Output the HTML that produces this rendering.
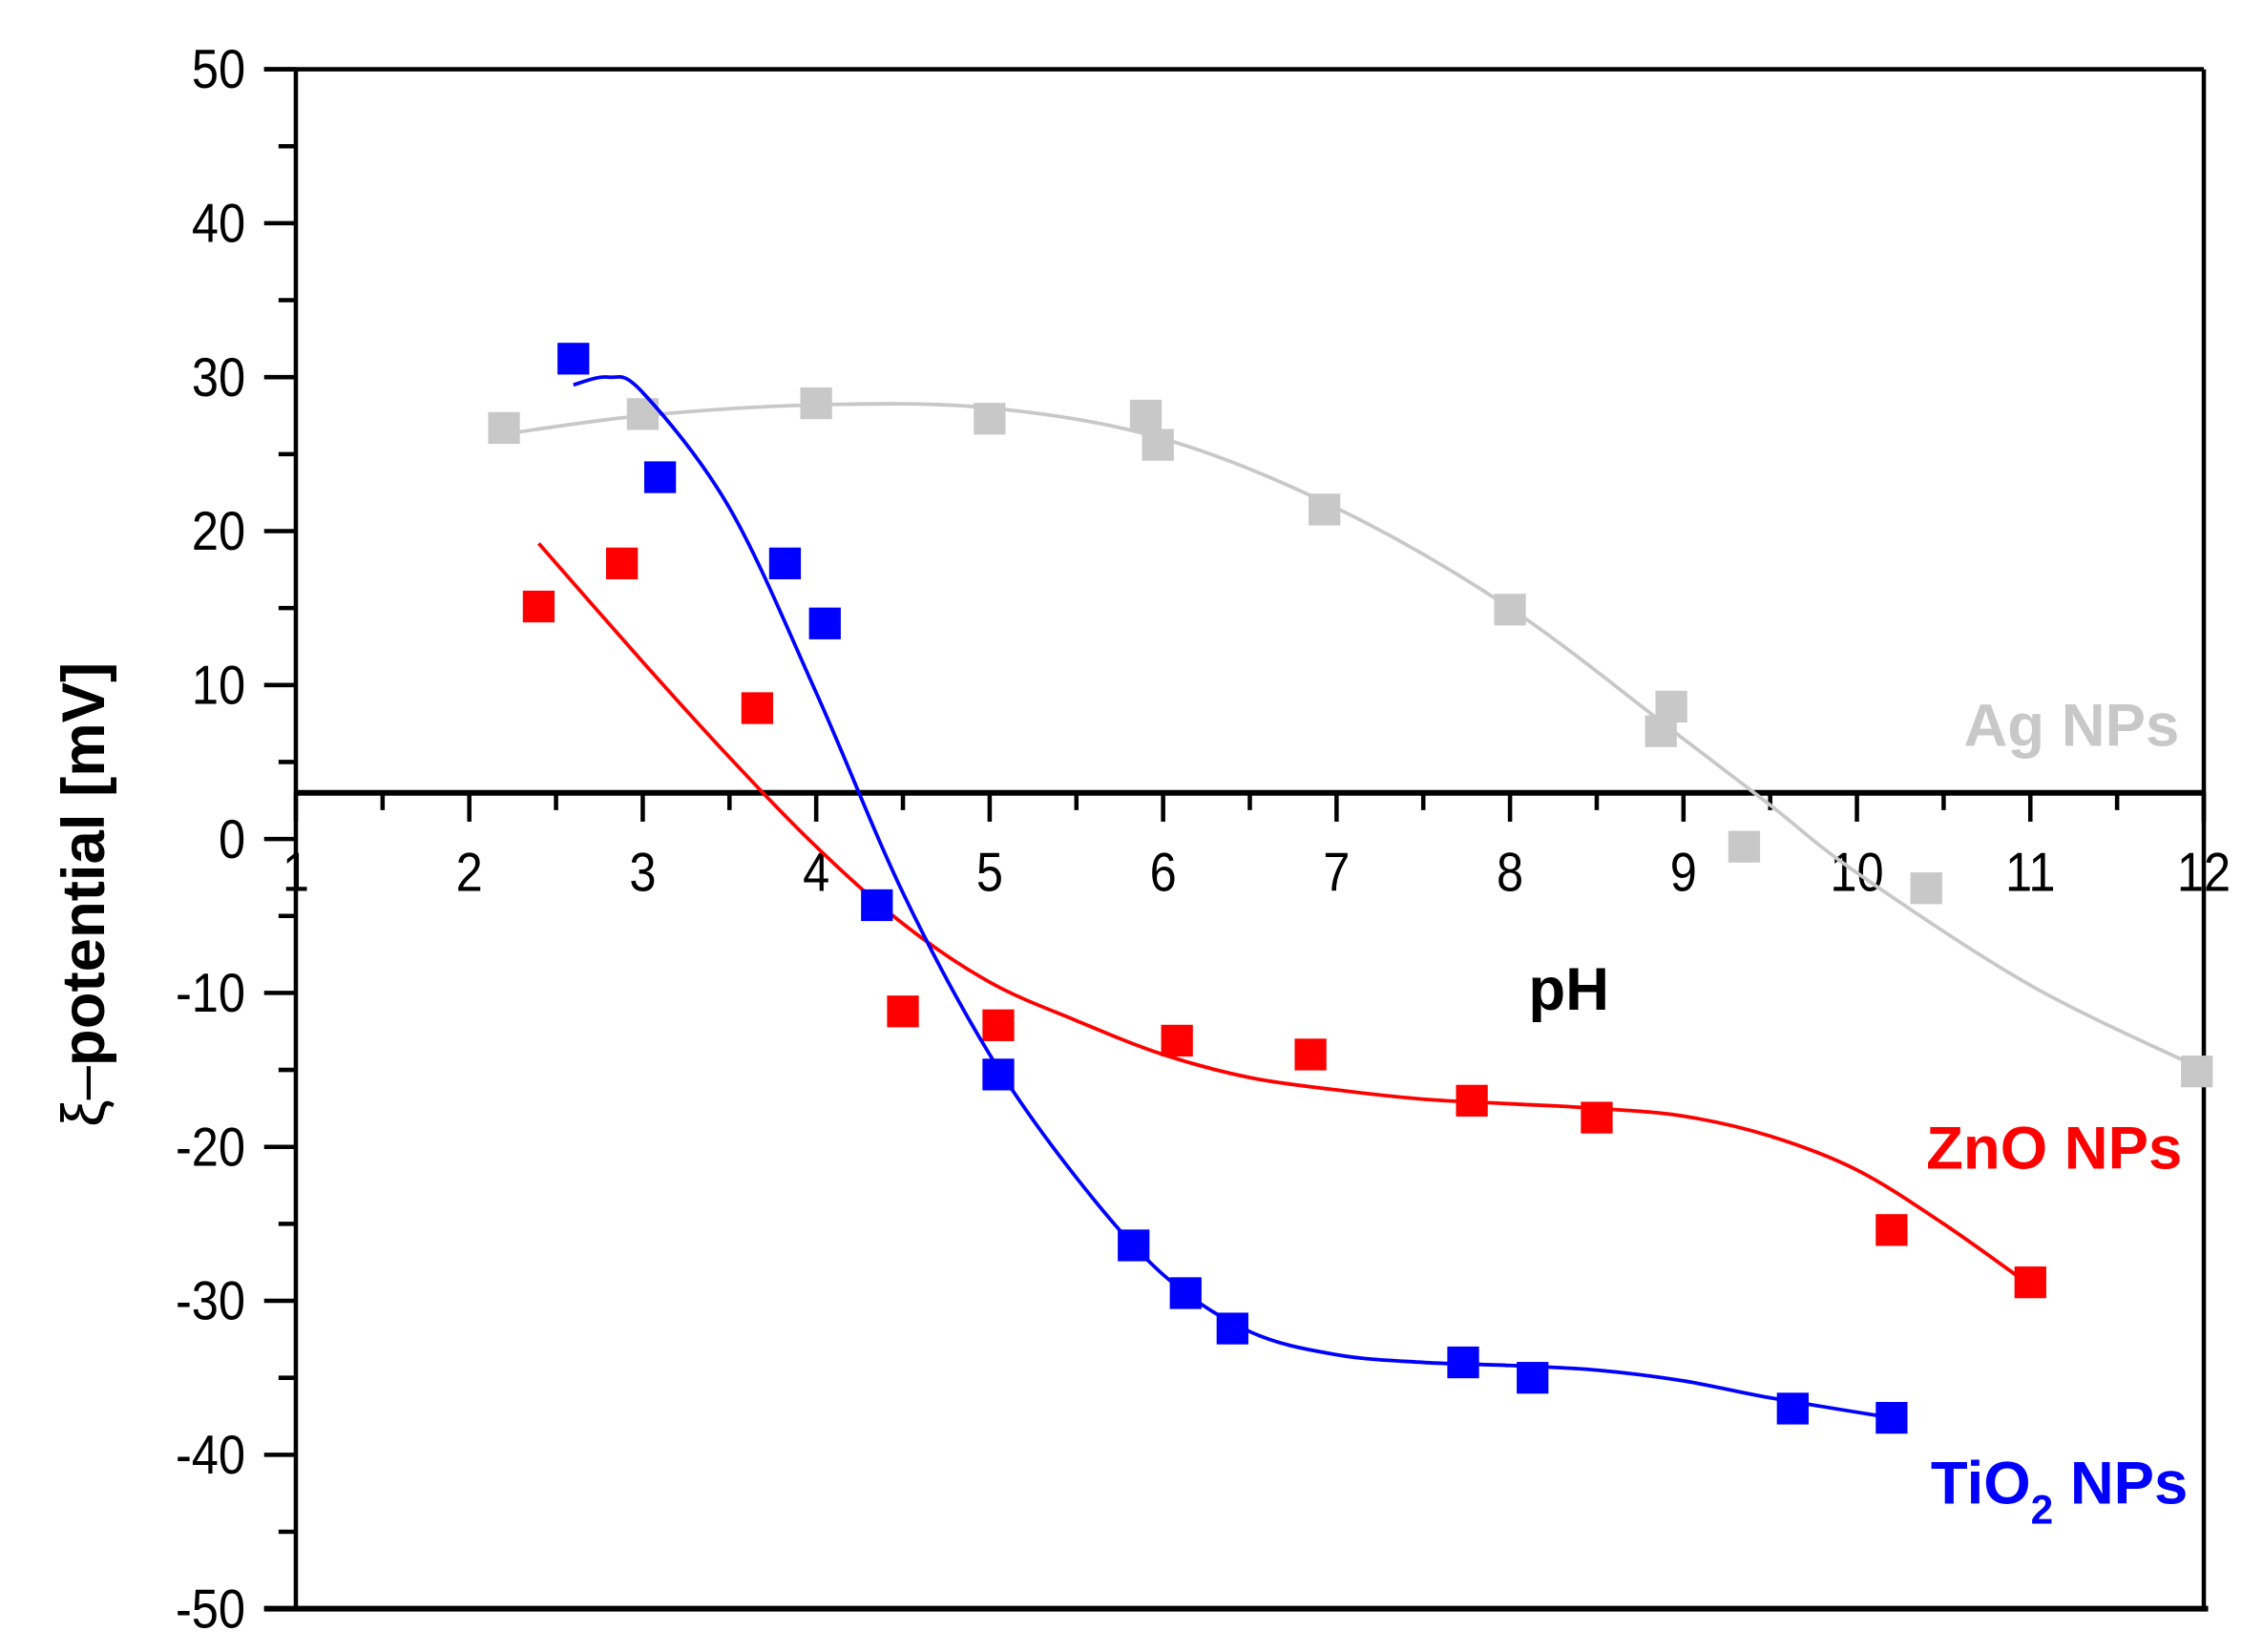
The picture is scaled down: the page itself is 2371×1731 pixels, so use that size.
<!DOCTYPE html>
<html><head><meta charset="utf-8"><style>html,body{margin:0;padding:0;background:#fff}svg{display:block}</style></head>
<body>
<svg id="chart" width="2371" height="1731" viewBox="0 0 1568 1145" preserveAspectRatio="none" xmlns="http://www.w3.org/2000/svg" font-family="'Liberation Sans', Arial, sans-serif">
<rect width="1568" height="1145" fill="#fff"/>
<g id="axes"></g>
<g id="series"></g>
<text x="1087" y="700" font-size="42" font-weight="bold" text-anchor="middle">pH</text>
<text transform="translate(72,620) rotate(-90)" font-size="42" font-weight="bold" text-anchor="middle"><tspan font-weight="normal">ξ–</tspan>potential [mV]</text>
<text x="1510" y="517" font-size="42" font-weight="bold" fill="#c8c8c8" text-anchor="end">Ag NPs</text>
<text x="1512" y="810" font-size="42" font-weight="bold" fill="#ff0000" text-anchor="end">ZnO NPs</text>
<text x="1516" y="1042" font-size="42" font-weight="bold" fill="#0000ff" text-anchor="end">TiO<tspan font-size="28" dy="14">2</tspan><tspan dy="-14"> NPs</tspan></text>
</svg>
<script>
const xTicks = [1,2,3,4,5,6,7,8,9,10,11,12];
const yTicks = [50,40,30,20,10,0,-10,-20,-30,-40,-50];
const agX = [2.2,3.0,4.0,5.0,5.9,5.97,6.93,8.0,8.87,8.93,9.35,10.4,11.96];
const agY = [26.7,27.6,28.3,27.3,27.5,25.6,21.4,14.9,7.0,8.6,-0.5,-3.2,-15.1];
const tiX = [2.6,3.1,3.82,4.05,4.35,5.05,5.83,6.13,6.4,7.73,8.13,9.63,10.2];
const tiY = [31.2,23.5,17.9,14.0,-4.3,-15.3,-26.4,-29.5,-31.8,-34.0,-35.0,-37.0,-37.6];
const znX = [2.4,2.88,3.66,4.5,5.05,6.08,6.85,7.78,8.5,10.2,11.0];
const znY = [15.1,17.9,8.5,-11.2,-12.1,-13.1,-14.0,-17.0,-18.1,-25.4,-28.8];
const agFitX = [2.2,3,4,5,6,7,8,9,9.5,10,11,12];
const agFitY = [26.3,27.5,28.2,28.0,26.0,21.5,15.0,6.5,2.2,-2.2,-9.5,-15.0];
const tiFitX = [2.6,2.8,3.0,3.5,4.0,4.5,5.0,5.5,6.0,6.5,7.0,7.5,8.0,8.5,9.0,9.5,10.2];
const tiFitY = [29.5,30.0,29.0,21.5,9.5,-3.5,-14.0,-22.0,-28.3,-32.0,-33.5,-34.0,-34.2,-34.5,-35.2,-36.3,-37.6];
const znFitX = [2.4,3,3.5,4,4.5,5,5.5,6,6.5,7,7.5,8,8.5,9,9.5,10,10.5,11];
const znFitY = [19.2,11.5,5.3,-0.5,-5.5,-9.3,-11.8,-14.0,-15.5,-16.3,-16.9,-17.2,-17.5,-18.0,-19.3,-21.5,-25.0,-29.0];

const L=205,R=1527,T=48,B=1115;
const sx = v => L + (v-1)/(12-1)*(R-L);
const sy = v => T + (50-v)/100*(B-T);
const NS='http://www.w3.org/2000/svg';
function mk(tag, attrs, parent){const e=document.createElementNS(NS,tag);for(const k in attrs)e.setAttribute(k,attrs[k]);parent.appendChild(e);return e;}
const axes=document.getElementById('axes'), series=document.getElementById('series');
const xAxisY = sy(3);
let e;
e=mk('line',{x1:183,y1:T,x2:R,y2:T,stroke:'#000','stroke-width':3},axes);


e=mk('line',{x1:183,y1:B,x2:R+3,y2:B,stroke:'#000','stroke-width':4},axes);


e=mk('line',{x1:L,y1:T,x2:L,y2:B,stroke:'#000','stroke-width':3},axes);


e=mk('line',{x1:R,y1:T,x2:R,y2:B,stroke:'#000','stroke-width':3},axes);


e=mk('line',{x1:L,y1:xAxisY,x2:R,y2:xAxisY,stroke:'#000','stroke-width':4},axes);


yTicks.forEach((v,i)=>{
  const y=sy(v);
  const t=mk('line',{x1:183,y1:y,x2:L,y2:y,stroke:'#000','stroke-width':3},axes);
  
  
  const lb=mk('text',{x:0,y:0,'font-size':38,'text-anchor':'end',transform:'translate(170,'+(y+13)+') scale(0.88,1)'},axes);
  lb.textContent=v;
  
  
  if(i<yTicks.length-1){
    const ym=sy(v-5);
    const m=mk('line',{x1:193,y1:ym,x2:L,y2:ym,stroke:'#000','stroke-width':3},axes);
    
    
  }
});
xTicks.forEach((v,i)=>{
  const x=sx(v);
  const t=mk('line',{x1:x,y1:xAxisY,x2:x,y2:xAxisY+20,stroke:'#000','stroke-width':3},axes);
  
  
  const lb=mk('text',{x:0,y:0,'font-size':38,'text-anchor':'middle',transform:'translate('+x+','+(xAxisY+68)+') scale(0.88,1)'},axes);
  lb.textContent=v;
  
  
  if(i<xTicks.length-1){
    const xm=sx(v+0.5);
    const m=mk('line',{x1:xm,y1:xAxisY,x2:xm,y2:xAxisY+12,stroke:'#000','stroke-width':3},axes);
    
    
  }
});
function spline(xs,ys){
  const p=xs.map((x,i)=>[sx(x),sy(ys[i])]);
  let d='M'+p[0][0]+','+p[0][1];
  for(let i=0;i<p.length-1;i++){
    const p0=p[i-1]||p[i],p1=p[i],p2=p[i+1],p3=p[i+2]||p[i+1];
    const c1=[p1[0]+(p2[0]-p0[0])/6,p1[1]+(p2[1]-p0[1])/6];
    const c2=[p2[0]-(p3[0]-p1[0])/6,p2[1]-(p3[1]-p1[1])/6];
    d+=' C'+c1+' '+c2+' '+p2;
  }
  return d;
}
function drawSeries(name,xs,ys,fx,fy,color){
  const pth=mk('path',{d:spline(fx,fy),fill:'none',stroke:color,'stroke-width':2.5},series);
  
  
  xs.forEach((x,i)=>{
    const r=mk('rect',{x:sx(x)-11,y:sy(ys[i])-11,width:22,height:22,fill:color},series);
    
    
  });
}
drawSeries('ag',agX,agY,agFitX,agFitY,'#c8c8c8');
drawSeries('zno',znX,znY,znFitX,znFitY,'#ff0000');
drawSeries('tio2',tiX,tiY,tiFitX,tiFitY,'#0000ff');
</script>
</body></html>
